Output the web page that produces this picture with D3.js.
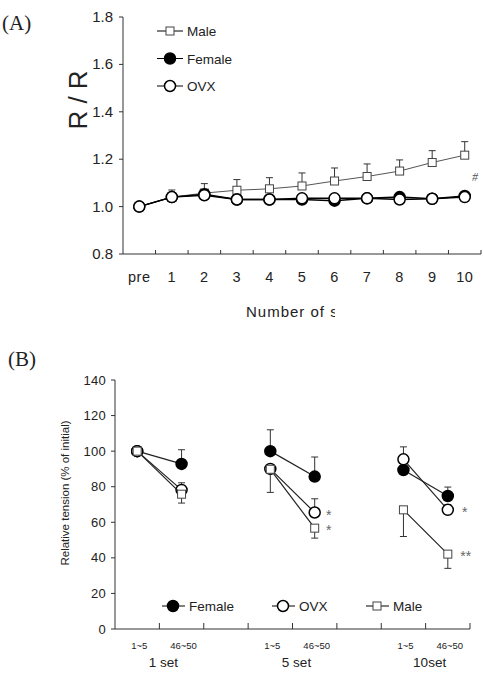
<!DOCTYPE html>
<html>
<head>
<meta charset="UTF-8">
<script src="https://d3js.org/d3.v7.min.js"></script>
<style>
  body { margin: 0; background: #fff; }
  text { font-family: "Liberation Sans", Arial, sans-serif; fill: #222; }
  .serif { font-family: "Liberation Serif", "Times New Roman", serif; }
</style>
</head>
<body>
<svg id="chart" width="483" height="680"></svg>
<script>
// ---- panel A data ----
const setsA = ['pre', '1', '2', '3', '4', '5', '6', '7', '8', '9', '10'];
const maleA = [1.0, 1.04, 1.057, 1.069, 1.075, 1.087, 1.108, 1.127, 1.15, 1.186, 1.217];
const maleSeA = [0, 0.03, 0.04, 0.045, 0.047, 0.055, 0.055, 0.053, 0.047, 0.05, 0.057];
const femaleA = [1.0, 1.04, 1.052, 1.03, 1.03, 1.03, 1.025, 1.035, 1.04, 1.033, 1.045];
const femaleSeA = [0, 0.01, 0.01, 0.008, 0.008, 0.01, 0.01, 0.01, 0.015, 0.012, 0.01];
const ovxA = [1.0, 1.04, 1.048, 1.03, 1.03, 1.035, 1.035, 1.035, 1.03, 1.033, 1.04];
const ovxSeA = [0, 0.008, 0.008, 0.01, 0.018, 0.01, 0.01, 0.01, 0.01, 0.01, 0.01];
const yTicksA = [0.8, 1.0, 1.2, 1.4, 1.6, 1.8];

// ---- panel B data ----
const slotsB = ['1set-a', '1set-b', 'gap1', '5set-a', '5set-b', 'gap2', '10set-a', '10set-b'];
const slotLabelsB = ['1~5', '46~50', '', '1~5', '46~50', '', '1~5', '46~50'];
const groupsB = ['1 set', '5 set', '10set'];
const femaleB = [[100, 92.8], [100, 85.7], [89.4, 74.8]];
const femaleSeB = [[0, 8], [12, 11], [0, 5]];
const ovxB = [[100, 78.2], [90, 65.5], [95.4, 67]];
const ovxSeB = [[0, 4], [0, 7.7], [7, 3]];
const maleB = [[100, 75.8], [89.8, 56.7], [67, 42.1]];
const maleSeB = [[0, 5], [13, 5.6], [15, 8]];
const yTicksB = [0, 20, 40, 60, 80, 100, 120, 140];
const marksB = [
  { slot: 4, value: 65.5, text: '*', dx: 14 },
  { slot: 4, value: 56.7, text: '*', dx: 14 },
  { slot: 7, value: 67, text: '*', dx: 17 },
  { slot: 7, value: 42.1, text: '**', dx: 18 }
];

const svg = d3.select('#chart');
const axisColor = '#333';

function drawMarker(g, type, x, y) {
  if (type === 'square') {
    g.append('rect').attr('x', x - 4).attr('y', y - 4).attr('width', 8).attr('height', 8)
      .attr('fill', '#fff').attr('stroke', '#444').attr('stroke-width', 1);
  } else {
    g.append('circle').attr('cx', x).attr('cy', y).attr('r', 5.5)
      .attr('fill', type === 'filled' ? '#000' : '#fff')
      .attr('stroke', '#000').attr('stroke-width', 1.5);
  }
}

// ================= Panel A =================
const xA = d3.scaleBand().domain(setsA).range([123, 481]);
const yA = d3.scaleLinear().domain([0.8, 1.8]).range([254, 17]);
const gA = svg.append('g');

gA.append('text').attr('class', 'serif').attr('x', 2).attr('y', 30)
  .attr('font-size', 21).text('(A)');

// y axis
gA.append('line').attr('x1', 123).attr('x2', 123).attr('y1', yA(1.8)).attr('y2', yA(0.8))
  .attr('stroke', axisColor);
yTicksA.forEach(t => {
  gA.append('line').attr('x1', 119).attr('x2', 123).attr('y1', yA(t)).attr('y2', yA(t))
    .attr('stroke', axisColor);
  gA.append('text').attr('x', 113).attr('y', yA(t) + 5).attr('text-anchor', 'end')
    .attr('font-size', 15).text(t.toFixed(1));
});

// x axis
gA.append('line').attr('x1', 123).attr('x2', 481).attr('y1', 254).attr('y2', 254)
  .attr('stroke', axisColor);
setsA.forEach((s, i) => {
  const bx = xA(s) + xA.bandwidth();
  gA.append('line').attr('x1', bx).attr('x2', bx).attr('y1', 254).attr('y2', 250)
    .attr('stroke', axisColor);
  gA.append('text').attr('x', xA(s) + xA.bandwidth() / 2).attr('y', 282)
    .attr('text-anchor', 'middle').attr('font-size', 14.5).attr('letter-spacing', 0.5).text(s);
});

svg.append('clipPath').attr('id', 'clipA').append('rect')
  .attr('x', 0).attr('y', 290).attr('width', 335).attr('height', 40);
gA.append('text').attr('x', 246).attr('y', 317).attr('font-size', 15).attr('letter-spacing', 1)
  .attr('clip-path', 'url(#clipA)').text('Number of sets');

gA.append('text').attr('transform', 'translate(87,100) rotate(-90)')
  .attr('text-anchor', 'middle').attr('font-size', 26).text('R / R');

const seriesA = [
  { name: 'Male', vals: maleA, se: maleSeA, type: 'square', line: '#555', dir: -1 },
  { name: 'Female', vals: femaleA, se: femaleSeA, type: 'filled', line: '#000', dir: -1 },
  { name: 'OVX', vals: ovxA, se: ovxSeA, type: 'open', line: '#000', dir: 1 }
];
const cx = s => xA(s) + xA.bandwidth() / 2;
seriesA.forEach(sr => {
  const g = gA.append('g');
  sr.vals.forEach((v, i) => {
    if (sr.se[i] > 0) {
      const y2 = sr.dir < 0 ? yA(v + sr.se[i]) : yA(v - sr.se[i]);
      g.append('line').attr('x1', cx(setsA[i])).attr('x2', cx(setsA[i]))
        .attr('y1', yA(v)).attr('y2', y2).attr('stroke', '#333');
      g.append('line').attr('x1', cx(setsA[i]) - 3.5).attr('x2', cx(setsA[i]) + 3.5)
        .attr('y1', y2).attr('y2', y2).attr('stroke', '#333');
    }
  });
  g.append('path').datum(sr.vals)
    .attr('d', d3.line().x((d, i) => cx(setsA[i])).y(d => yA(d)))
    .attr('fill', 'none').attr('stroke', sr.line).attr('stroke-width', sr.type === 'square' ? 1 : 1.5);
  sr.vals.forEach((v, i) => drawMarker(g, sr.type, cx(setsA[i]), yA(v)));
});

gA.append('text').attr('class', 'serif').attr('x', 475).attr('y', 181)
  .attr('text-anchor', 'middle').attr('font-size', 12).attr('font-style', 'italic')
  .style('fill', '#555').text('#');

// legend A
seriesA.forEach((sr, i) => {
  const ly = 31 + i * 27.5;
  gA.append('line').attr('x1', 157).attr('x2', 183).attr('y1', ly).attr('y2', ly)
    .attr('stroke', '#000');
  drawMarker(gA, sr.type, 170, ly);
  gA.append('text').attr('x', 187).attr('y', ly + 5).attr('font-size', 13.5).text(sr.name);
});

// ================= Panel B =================
const xB = d3.scaleBand().domain(slotsB).range([115, 470]);
const yB = d3.scaleLinear().domain([0, 140]).range([629, 380]);
const gB = svg.append('g');

gB.append('text').attr('class', 'serif').attr('x', 8).attr('y', 366)
  .attr('font-size', 21).text('(B)');

gB.append('line').attr('x1', 115).attr('x2', 115).attr('y1', yB(140)).attr('y2', yB(0))
  .attr('stroke', axisColor);
yTicksB.forEach(t => {
  gB.append('line').attr('x1', 111).attr('x2', 115).attr('y1', yB(t)).attr('y2', yB(t))
    .attr('stroke', axisColor);
  gB.append('text').attr('x', 106).attr('y', yB(t) + 4.5).attr('text-anchor', 'end')
    .attr('font-size', 13).attr('letter-spacing', 0.3).text(t);
});

gB.append('line').attr('x1', 115).attr('x2', 470).attr('y1', 629).attr('y2', 629)
  .attr('stroke', axisColor);
slotsB.forEach((s, i) => {
  const bx = xB(s) + xB.bandwidth();
  gB.append('line').attr('x1', bx).attr('x2', bx).attr('y1', 629).attr('y2', 623)
    .attr('stroke', axisColor);
  if (slotLabelsB[i]) {
    gB.append('text').attr('x', xB(s) + xB.bandwidth() / 2 + 2).attr('y', 649)
      .attr('text-anchor', 'middle').attr('font-size', 9.5).text(slotLabelsB[i]);
  }
});
const cxB = s => xB(s) + xB.bandwidth() / 2;
groupsB.forEach((gname, gi) => {
  const mid = (cxB(slotsB[gi * 3]) + cxB(slotsB[gi * 3 + 1])) / 2 + 4;
  gB.append('text').attr('x', mid).attr('y', 667).attr('text-anchor', 'middle')
    .attr('font-size', 13.5).text(gname);
});

gB.append('text').attr('transform', 'translate(69,493) rotate(-90)')
  .attr('text-anchor', 'middle').attr('font-size', 11.5).text('Relative tension (% of initial)');

const seriesB = [
  { name: 'Female', vals: femaleB, se: femaleSeB, type: 'filled', dir: -1 },
  { name: 'OVX', vals: ovxB, se: ovxSeB, type: 'open', dir: -1 },
  { name: 'Male', vals: maleB, se: maleSeB, type: 'square', dir: 1 }
];
seriesB.forEach(sr => {
  const g = gB.append('g');
  sr.vals.forEach((pair, gi) => {
    const xs = [cxB(slotsB[gi * 3]), cxB(slotsB[gi * 3 + 1])];
    pair.forEach((v, k) => {
      const se = sr.se[gi][k];
      if (se > 0) {
        const y2 = sr.dir < 0 ? yB(v + se) : yB(v - se);
        g.append('line').attr('x1', xs[k]).attr('x2', xs[k]).attr('y1', yB(v)).attr('y2', y2)
          .attr('stroke', '#333');
        g.append('line').attr('x1', xs[k] - 3.5).attr('x2', xs[k] + 3.5).attr('y1', y2).attr('y2', y2)
          .attr('stroke', '#333');
      }
    });
    g.append('line').attr('x1', xs[0]).attr('x2', xs[1]).attr('y1', yB(pair[0])).attr('y2', yB(pair[1]))
      .attr('stroke', '#222').attr('stroke-width', 1.2);
    pair.forEach((v, k) => drawMarker(g, sr.type, xs[k], yB(v)));
  });
});

marksB.forEach(m => {
  gB.append('text').attr('x', cxB(slotsB[m.slot]) + m.dx).attr('y', yB(m.value) + 7)
    .attr('text-anchor', 'middle').attr('font-size', 14).style('fill', '#666').text(m.text);
});

// legend B
const legX = [173, 283, 377];
['Female', 'OVX', 'Male'].forEach((name, i) => {
  const sr = seriesB.find(d => d.name === name);
  const ly = 606;
  gB.append('line').attr('x1', legX[i] - 11).attr('x2', legX[i] + 12).attr('y1', ly).attr('y2', ly)
    .attr('stroke', '#000');
  drawMarker(gB, sr.type, legX[i], ly);
  gB.append('text').attr('x', legX[i] + 16).attr('y', ly + 5).attr('font-size', 13.5).text(name);
});
</script>
</body>
</html>
